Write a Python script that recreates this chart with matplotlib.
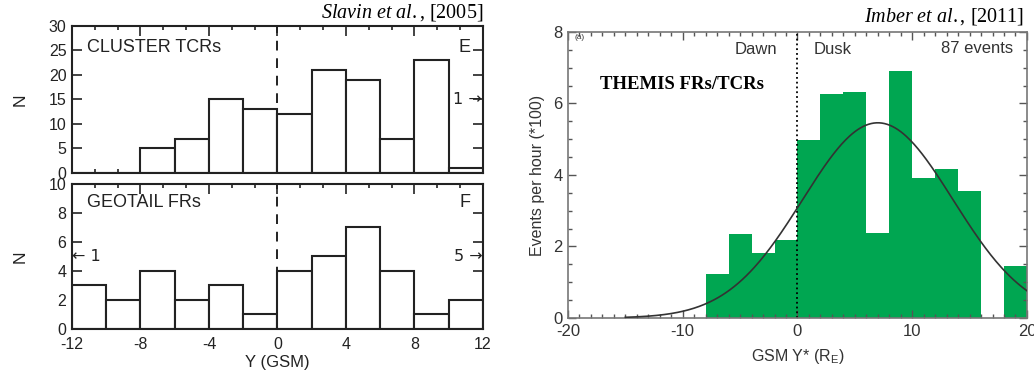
import matplotlib
matplotlib.use('Agg')
import matplotlib.pyplot as plt
import numpy as np
from matplotlib.ticker import MultipleLocator

plt.rcParams['font.family'] = ['Liberation Sans', 'DejaVu Sans']
plt.rcParams['axes.unicode_minus'] = False
plt.rcParams['mathtext.fontset'] = 'custom'
plt.rcParams['mathtext.rm'] = 'Liberation Serif'
plt.rcParams['mathtext.it'] = 'Liberation Serif:italic'

# Slavin et al. 2005 histograms, 2 RE bins from -12 to 12
slavin_edges = np.arange(-12, 13, 2)
cluster_counts = [0, 0, 5, 7, 15, 13, 12, 21, 19, 7, 23, 1]
geotail_counts = [3, 2, 4, 2, 3, 1, 4, 5, 7, 4, 1, 2]

# Imber et al. 2011 THEMIS rates, 2 RE bins from -8 to 20
imber_edges = np.arange(-8, 21, 2)
imber_rates = [1.22, 2.34, 1.82, 2.18, 4.98, 6.27, 6.31, 2.38, 6.9,
               3.92, 4.18, 3.56, 0.0, 1.46]
# gaussian fit drawn on top: amplitude, centre, width
fit_amp, fit_mu, fit_sigma = 5.46, 7.0, 6.55

green = '#00a651'

fig = plt.figure(figsize=(10.34, 3.75), dpi=100)
ax_e = fig.add_axes([0.0696, 0.5387, 0.3975, 0.392])
ax_f = fig.add_axes([0.0696, 0.1227, 0.3975, 0.3867])
ax_r = fig.add_axes([0.5493, 0.152, 0.4439, 0.7627])


def style_left(ax):
    ax.set_xlim(-12, 12)
    ax.xaxis.set_major_locator(MultipleLocator(4))
    ax.xaxis.set_minor_locator(MultipleLocator(4 / 3))
    ax.tick_params(which='both', direction='in', top=True, right=True,
                   width=1.2, labelsize=11.5, colors='#222222')
    ax.tick_params(which='major', length=7, pad=4)
    ax.tick_params(which='minor', length=3)
    ax.tick_params(axis='x', pad=6)
    for s in ax.spines.values():
        s.set_linewidth(1.5)
        s.set_color('#222222')
    ax.set_ylabel('N', fontsize=12.5, labelpad=15, color='#222222')


for ax, counts in [(ax_e, cluster_counts), (ax_f, geotail_counts)]:
    ax.axvline(0, color='#222222', ls=(0, (5, 4)), lw=1.4, zorder=1)
    ax.bar(slavin_edges[:-1], counts, width=2, align='edge', fc='white',
           ec='#222222', lw=1.5, zorder=2)
    style_left(ax)

ax_e.set_ylim(0, 30)
ax_e.yaxis.set_major_locator(MultipleLocator(5))
ax_e.tick_params(labelbottom=False)
ax_e.text(-11.1, 25.7, 'CLUSTER TCRs', fontsize=13, va='center',
          color='#222222')
ax_e.text(11.3, 25.7, 'E', fontsize=13, va='center', ha='right',
          color='#222222')
ax_e.text(11.95, 15, '1 \u2192', fontsize=11.5, va='center', ha='right',
          family='DejaVu Sans', color='#222222')

ax_f.set_ylim(0, 10)
ax_f.yaxis.set_major_locator(MultipleLocator(2))
ax_f.text(-11.1, 8.7, 'GEOTAIL FRs', fontsize=13, va='center',
          color='#222222')
ax_f.text(11.3, 8.7, 'F', fontsize=13, va='center', ha='right',
          color='#222222')
ax_f.text(-12.0, 5, '\u2190 1', fontsize=11.5, va='center', ha='left',
          family='DejaVu Sans', color='#222222')
ax_f.text(11.95, 5, '5 \u2192', fontsize=11.5, va='center', ha='right',
          family='DejaVu Sans', color='#222222')
ax_f.set_xlabel('Y (GSM)', fontsize=12, labelpad=2, color='#222222')

# right panel
ax_r.bar(imber_edges[:-1], imber_rates, width=2, align='edge', color=green,
         lw=0, zorder=1)
xs = np.linspace(-15, 20, 300)
ax_r.plot(xs, fit_amp * np.exp(-(xs - fit_mu) ** 2 / (2 * fit_sigma ** 2)),
          color='#333333', lw=1.2, zorder=3)
ax_r.axvline(0, color='black', ls=':', lw=1.3, zorder=2)
ax_r.set_xlim(-20, 20)
ax_r.set_ylim(0, 8)
ax_r.xaxis.set_major_locator(MultipleLocator(10))
ax_r.xaxis.set_minor_locator(MultipleLocator(1))
ax_r.yaxis.set_major_locator(MultipleLocator(2))
ax_r.yaxis.set_minor_locator(MultipleLocator(0.5))
ax_r.tick_params(which='both', direction='in', top=True, right=True,
                 color='#555555', width=1.0, labelsize=12,
                 labelcolor='#333333')
ax_r.tick_params(which='major', length=6, pad=4)
ax_r.tick_params(which='minor', length=3)
for s in ax_r.spines.values():
    s.set_color('#777777')
    s.set_linewidth(1.2)
ax_r.set_ylabel('Events per hour (*100)', fontsize=11.5, color='#333333',
                labelpad=6)
ax_r.set_xlabel('GSM Y* (R$_\\mathregular{E}$)', fontsize=11.5,
                color='#333333', labelpad=6)
ax_r.text(-19.4, 7.85, '(a)', fontsize=6, va='center', color='#333333')
ax_r.text(-1.8, 7.5, 'Dawn', fontsize=12, va='center', ha='right',
          color='#333333')
ax_r.text(1.4, 7.5, 'Dusk', fontsize=12, va='center', color='#333333')
ax_r.text(18.8, 7.55, '87 events', fontsize=12, va='center', ha='right',
          color='#333333')
ax_r.text(-17.2, 6.52, 'THEMIS FRs/TCRs', fontsize=13.5, va='center',
          family='Liberation Serif', weight='bold')

fig.text(0.467, 0.966, r'$\mathit{Slavin\ et\ al.}$, [2005]', fontsize=14.5,
         family='Liberation Serif', ha='right', va='center')
fig.text(0.991, 0.956, r'$\mathit{Imber\ et\ al.}$, [2011]', fontsize=14.5,
         family='Liberation Serif', ha='right', va='center')

fig.savefig('out.png', dpi=100)
